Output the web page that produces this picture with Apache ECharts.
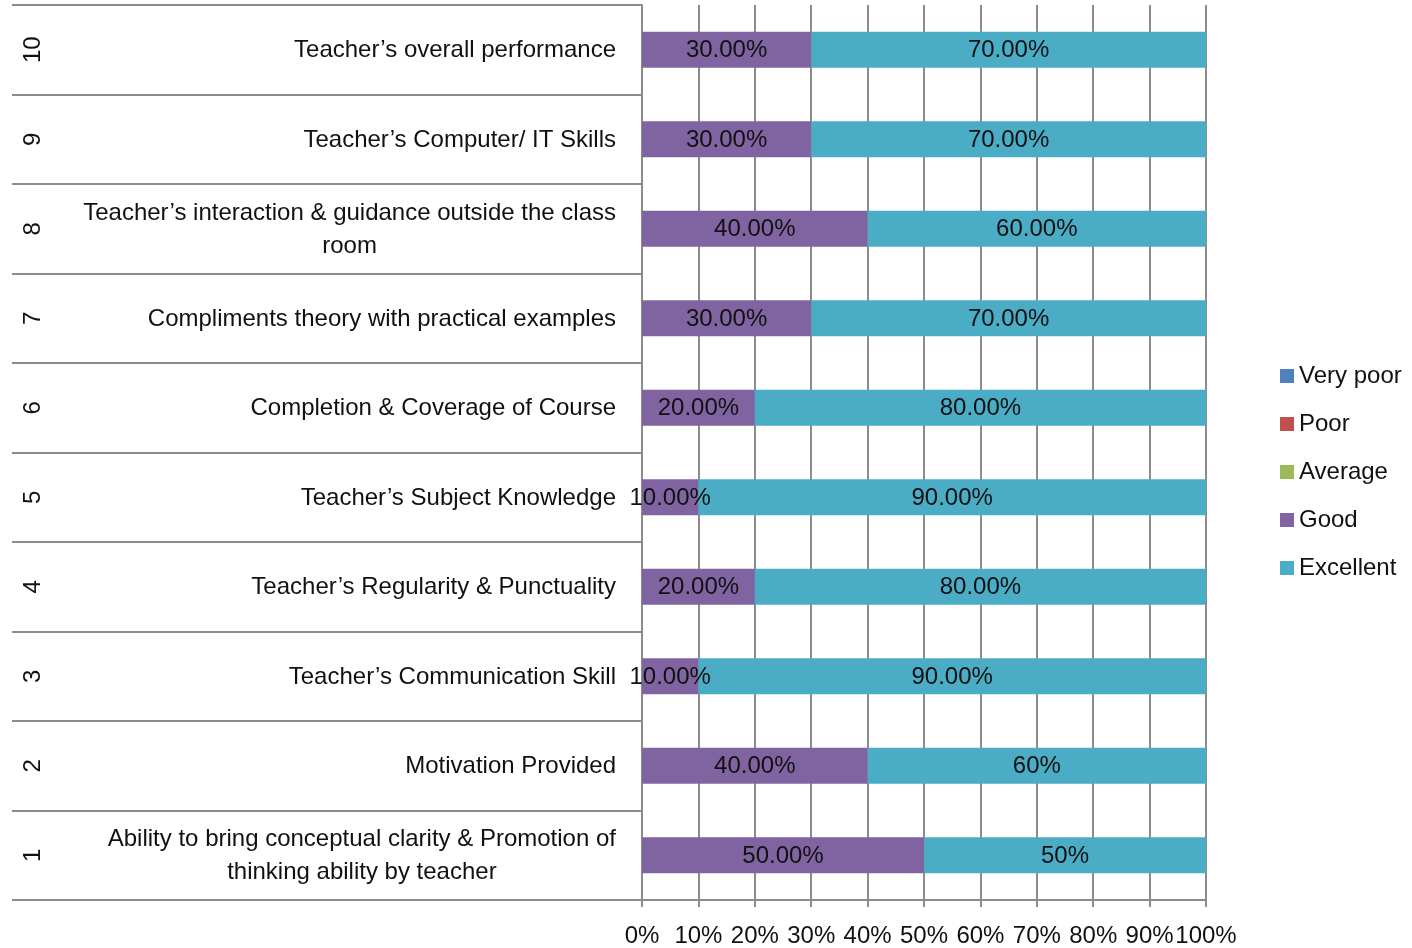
<!DOCTYPE html>
<html>
<head>
<meta charset="utf-8">
<title>Teacher feedback</title>
<script src="https://cdn.jsdelivr.net/npm/echarts@6/dist/echarts.min.js"></script>
<style>
  html, body { margin: 0; padding: 0; background: #ffffff; }
  #chart { width: 1412px; height: 948px; }
</style>
</head>
<body>
<div id="chart"></div>
<script>
// Item numbers, bottom to top
const itemIds = ['1', '2', '3', '4', '5', '6', '7', '8', '9', '10'];
// Item descriptions (lines split where the label wraps)
const itemNames = [
  'Ability to bring conceptual clarity & Promotion of\nthinking ability by teacher',
  'Motivation Provided',
  'Teacher\u2019s Communication Skill',
  'Teacher\u2019s Regularity & Punctuality',
  'Teacher\u2019s Subject Knowledge',
  'Completion & Coverage of Course',
  'Compliments theory with practical examples',
  'Teacher\u2019s interaction & guidance outside the class\nroom',
  'Teacher\u2019s Computer/ IT Skills',
  'Teacher\u2019s overall performance'
];
// Share of responses (%) per rating
const veryPoor = [0, 0, 0, 0, 0, 0, 0, 0, 0, 0];
const poor = [0, 0, 0, 0, 0, 0, 0, 0, 0, 0];
const average = [0, 0, 0, 0, 0, 0, 0, 0, 0, 0];
const good = [50, 40, 10, 20, 10, 20, 30, 40, 30, 30];
const excellent = [50, 60, 90, 80, 90, 80, 70, 60, 70, 70];
// Decimal places shown on each Excellent label
const excellentDecimals = [0, 0, 2, 2, 2, 2, 2, 2, 2, 2];
// X axis range
const xMin = 0, xMax = 100, xStep = 10;

const FONT = '"Liberation Sans Narrow", "Liberation Sans", Arial, sans-serif';
const GRID_GRAY = '#8c8c8c';

const chart = echarts.init(document.getElementById('chart'), null, { renderer: 'canvas' });

function stackSeries(name, data, color, labelFn) {
  return {
    name: name,
    type: 'bar',
    stack: 'total',
    data: data,
    barWidth: 36,
    itemStyle: { color: color },
    label: labelFn ? {
      show: true,
      position: 'inside',
      formatter: labelFn,
      color: '#111',
      fontFamily: FONT,
      fontSize: 24,
      offset: [0, 1]
    } : { show: false },
    emphasis: { disabled: true }
  };
}

const option = {
  animation: false,
  backgroundColor: '#ffffff',
  textStyle: { fontFamily: FONT },
  grid: { left: 642, right: 206, top: 5, bottom: 47, containLabel: false },
  legend: {
    orient: 'vertical',
    left: 1275,
    top: 359,
    itemWidth: 14,
    itemHeight: 14,
    itemGap: 24,
    icon: 'rect',
    textStyle: { fontFamily: FONT, fontSize: 24, color: '#111', lineHeight: 24 },
    data: ['Very poor', 'Poor', 'Average', 'Good', 'Excellent']
  },
  xAxis: {
    type: 'value',
    min: xMin,
    max: xMax,
    interval: xStep,
    axisLine: { show: true, lineStyle: { color: GRID_GRAY, width: 2 } },
    axisTick: { show: true, length: 7, lineStyle: { color: GRID_GRAY, width: 2 } },
    axisLabel: {
      formatter: '{value}%',
      margin: 24,
      color: '#111',
      fontFamily: FONT,
      fontSize: 24
    },
    splitLine: { show: true, lineStyle: { color: GRID_GRAY, width: 2 } }
  },
  yAxis: [
    {
      type: 'category',
      data: itemNames,
      position: 'left',
      axisLine: { show: true, lineStyle: { color: GRID_GRAY, width: 2 } },
      axisTick: { show: true, length: 630, lineStyle: { color: GRID_GRAY, width: 2 } },
      axisLabel: {
        margin: 26,
        fontFamily: FONT,
        fontSize: 24,
        color: '#111',
        lineHeight: 33,
        formatter: function (v) {
          return v.split('\n').map(function (s) { return '{c|' + s + '}'; }).join('\n');
        },
        rich: {
          c: { align: 'center', fontFamily: FONT, fontSize: 24, color: '#111', lineHeight: 33, padding: [2, 0, 0, 0] }
        }
      },
      splitLine: { show: false }
    },
    {
      type: 'category',
      data: itemIds,
      position: 'left',
      axisLine: { show: false },
      axisTick: { show: false },
      axisLabel: {
        rotate: 90,
        margin: 597,
        fontFamily: FONT,
        fontSize: 24,
        color: '#111'
      },
      splitLine: { show: false }
    }
  ],
  series: [
    stackSeries('Very poor', veryPoor, '#4F81BD'),
    stackSeries('Poor', poor, '#C0504D'),
    stackSeries('Average', average, '#9BBB59'),
    stackSeries('Good', good, '#8064A2', function (p) {
      return p.value.toFixed(2) + '%';
    }),
    stackSeries('Excellent', excellent, '#4BACC6', function (p) {
      return p.value.toFixed(excellentDecimals[p.dataIndex]) + '%';
    })
  ]
};

chart.setOption(option);
</script>
</body>
</html>
